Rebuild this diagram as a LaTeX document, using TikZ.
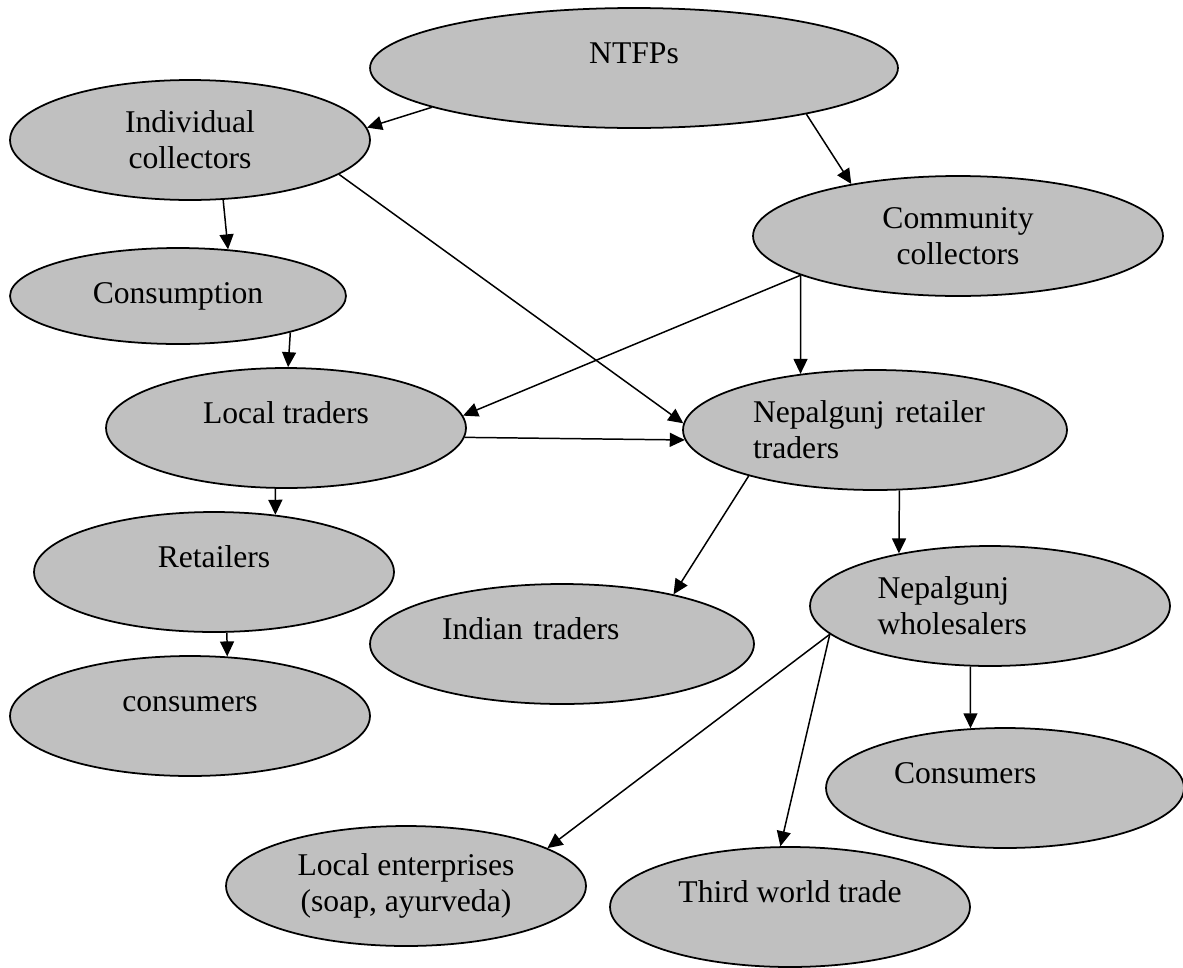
\documentclass[tikz,border=0pt]{standalone}
\usepackage{fontspec}
\setmainfont{Liberation Serif}
\usepackage{tikz}
\usetikzlibrary{shapes.geometric}
\usetikzlibrary{arrows.meta}
\definecolor{nodegray}{HTML}{C0C0C0}

\begin{document}
\begin{tikzpicture}[
    x=0.02cm, y=-0.02cm,
    actor/.style={ellipse, draw, line width=1pt, fill=nodegray, inner sep=2pt, minimum width=7.2cm, minimum height=2.4cm, font=\fontsize{18}{20.5}\selectfont, align=center},
    oneline/.style={text height=0.45cm, text depth=0.65cm},
    lefttext/.style={align=left, text width=#1},
    flow/.style={-{Triangle[length=0.3cm, width=0.28cm]}, line width=0.85pt}
]
    \useasboundingbox (0,0) rectangle (1183,967);

    % Source
    \node[actor, oneline, minimum width=10.56cm] (ntfp) at (634,68) {NTFPs};

    % Collectors
    \node[actor] (indiv) at (190,140) {Individual\\collectors};
    \node[actor, minimum width=8.2cm] (comm) at (958,236) {Community\\collectors};
    \node[actor, minimum width=6.72cm, minimum height=1.92cm] (consump) at (178,296) {Consumption};

    % Traders
    \node[actor, oneline] (localtr) at (286,428) {Local traders};
    \node[actor, lefttext=4.88cm, minimum width=7.68cm] (nepret) at (875,430) {Nepalgunj retailer\\traders};
    \node[actor, oneline] (retail) at (214,572) {Retailers};
    \node[actor, oneline, lefttext=4.8cm, minimum width=7.68cm] (indian) at (562,644) {Indian traders};
    \node[actor, lefttext=4.5cm] (nepwhole) at (990,606) {Nepalgunj\\wholesalers};

    % End users
    \node[actor, oneline] (endcons) at (190,716) {consumers};
    \node[actor, oneline, lefttext=4.44cm, minimum width=7.16cm] (wholecons) at (1005,788) {Consumers};
    \node[actor] (localent) at (406,886) {Local enterprises\\(soap, ayurveda)};
    \node[actor, oneline] (third) at (790,907) {Third world trade};

    % Flows
    \draw[flow] (ntfp.191) -- (indiv.4);
    \draw[flow] (ntfp.345) -- (comm.154);
    \draw[flow] (indiv.299) -- (consump.43);
    \draw[flow] (indiv.347) -- (nepret.178);
    \draw[flow] (comm.194) -- (localtr.4);
    \draw[flow] (comm.194) -- (nepret.143);
    \draw[flow] (consump.342) -- (localtr.88);
    \draw[flow] (localtr.357) -- (nepret.183);
    \draw[flow] (localtr.260) -- (retail.43);
    \draw[flow] (retail.282) -- (endcons.58);
    \draw[flow] (nepret.200) -- (indian.24);
    \draw[flow] (nepret.292) -- (nepwhole.150);
    \draw[flow] (nepwhole.190) -- (localent.15);
    \draw[flow] (nepwhole.190) -- (third.99);
    \draw[flow] (nepwhole.252) -- (wholecons.120);
\end{tikzpicture}
\end{document}
